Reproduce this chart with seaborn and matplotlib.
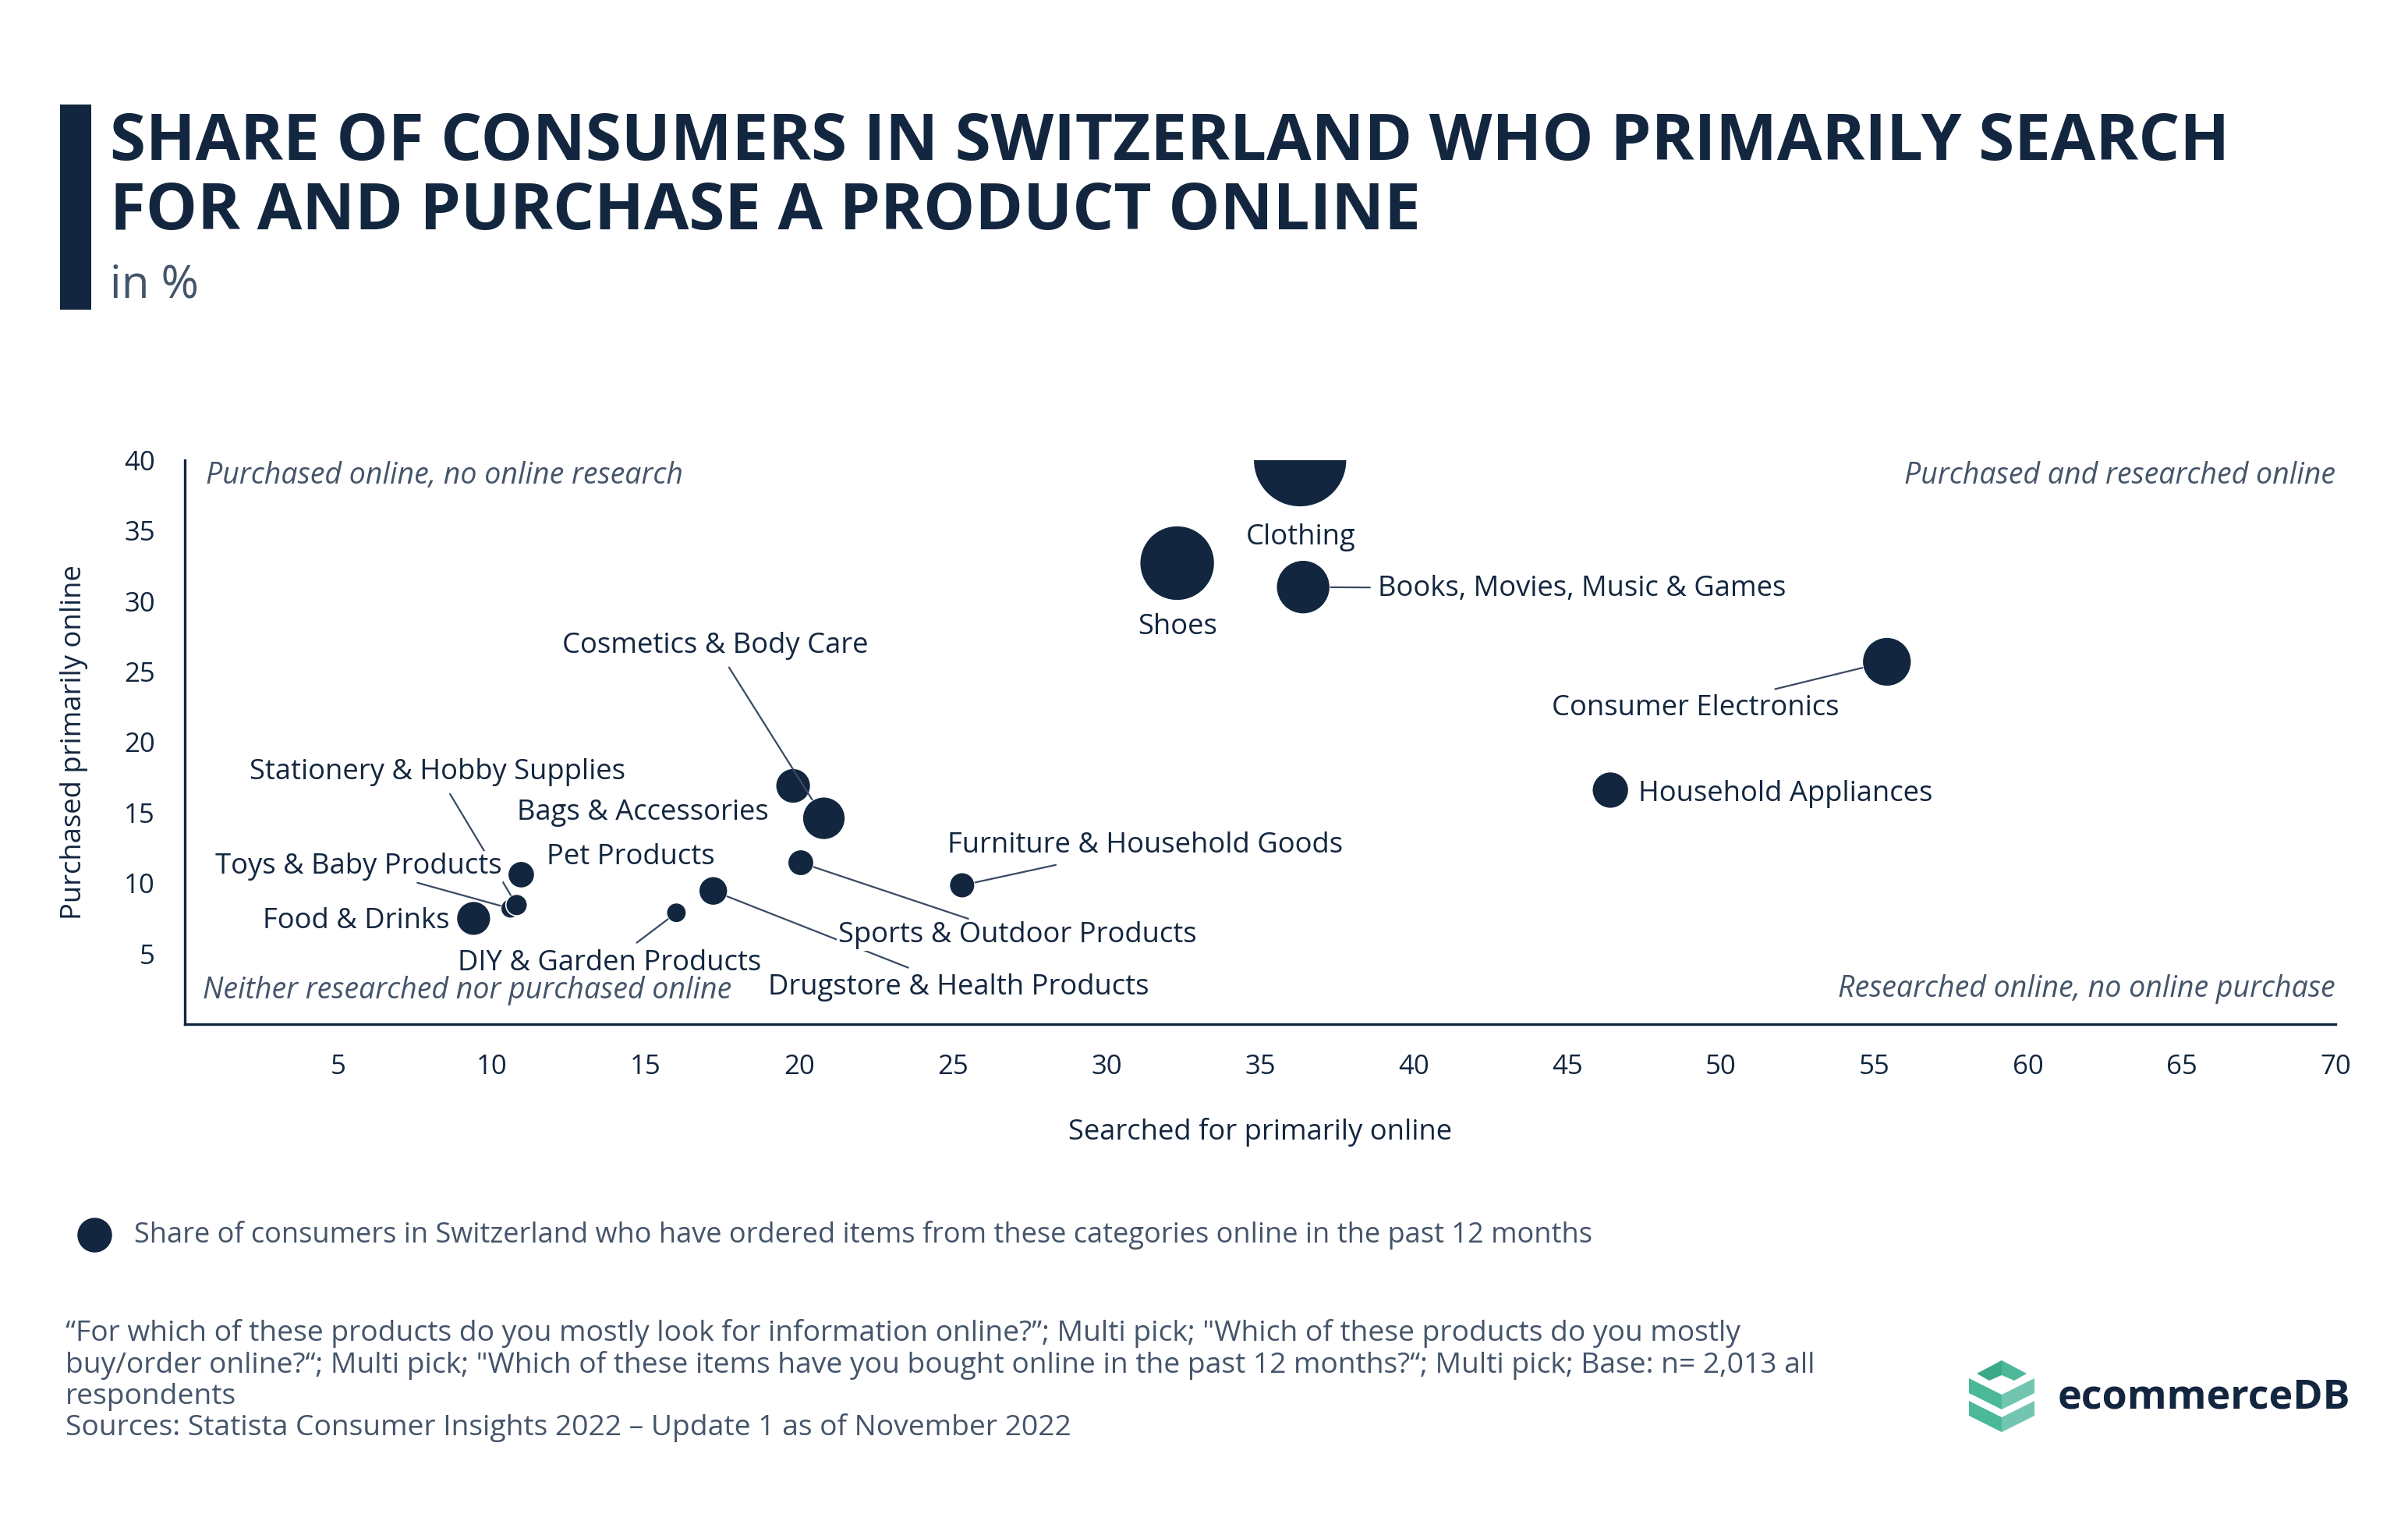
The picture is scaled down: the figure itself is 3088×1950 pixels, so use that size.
import matplotlib
matplotlib.use('Agg')
import matplotlib.pyplot as plt
from matplotlib.lines import Line2D
from matplotlib.patches import Polygon, Rectangle
import pandas as pd
import seaborn as sns

# Data (in %)
categories = ['Clothing', 'Shoes', 'Books, Movies, Music & Games', 'Consumer Electronics',
              'Household Appliances', 'Cosmetics & Body Care', 'Bags & Accessories',
              'Sports & Outdoor Products', 'Furniture & Household Goods',
              'Drugstore & Health Products', 'DIY & Garden Products', 'Pet Products',
              'Toys & Baby Products', 'Stationery & Hobby Supplies', 'Food & Drinks']
searched = [36.3, 32.3, 36.4, 55.4, 46.4, 20.8, 19.8, 20.05, 25.3, 17.2, 16.0, 10.95, 10.6, 10.8, 9.4]
purchased = [40.0, 32.7, 31.0, 25.7, 16.6, 14.6, 16.9, 11.45, 9.85, 9.45, 7.9, 10.6, 8.2, 8.45, 7.5]
ordered = [60.0, 41.4, 25.4, 22.5, 16.2, 19.1, 15.5, 12.3, 12.1, 13.2, 10.6, 12.5, 10.5, 11.0, 15.2]

NAVY = '#13263f'
GREY = '#44546a'
LINE = '#3a4a63'
W, H = 3088, 1950

sns.set_style('white')
plt.rcParams['font.family'] = ['Open Sans', 'DejaVu Sans']

df = pd.DataFrame({'category': categories, 'searched': searched,
                   'purchased': purchased, 'ordered': ordered})

fig = plt.figure(figsize=(W / 200, H / 200), dpi=200)
ax = fig.add_axes([237 / W, 1 - 1313 / H, (2995 - 237) / W, (1313 - 590) / H])

sns.scatterplot(data=df, x='searched', y='purchased', size='ordered',
                sizes=(62.7, 1866), size_norm=(10, 60), color=NAVY,
                edgecolor='white', linewidth=0.6, alpha=1, legend=False,
                ax=ax, zorder=3)

ax.set_xlim(0, 70)
ax.set_ylim(0, 40)
ax.set_xticks(range(0, 71, 5))
ax.set_xticklabels([''] + [str(v) for v in range(5, 71, 5)])
ax.set_yticks(range(0, 41, 5))
ax.set_yticklabels([''] + [str(v) for v in range(5, 41, 5)])
ax.tick_params(direction='out', length=4.3, width=1.2, color=NAVY,
               labelsize=12.5, labelcolor=NAVY, pad=9.5)
for s in ['top', 'right']:
    ax.spines[s].set_visible(False)
for s in ['left', 'bottom']:
    ax.spines[s].set_color(NAVY)
    ax.spines[s].set_linewidth(1.2)

ax.set_xlabel('Searched for primarily online', fontsize=13.1, color=NAVY, va='center')
ax.xaxis.set_label_coords(0.5, -0.191)
ax.set_ylabel('Purchased primarily online', fontsize=13.1, color=NAVY, va='center')
ax.yaxis.set_label_coords(-0.0515, 0.5)

# quadrant captions
qkw = dict(fontsize=13.5, color=GREY, style='italic', transform=ax.transAxes, va='center')
ax.text(0.0098, 0.973, 'Purchased online, no online research', ha='left', **qkw)
ax.text(1.0, 0.973, 'Purchased and researched online', ha='right', **qkw)
ax.text(0.0083, 0.060, 'Neither researched nor purchased online', ha='left', **qkw)
ax.text(1.0, 0.062, 'Researched online, no online purchase', ha='right', **qkw)

# label placement: offset (px, down positive), alignment, leader, white box
label_pos = {
    'Clothing': (1, 95, 'center', False, False),
    'Shoes': (1, 78, 'center', False, False),
    'Books, Movies, Music & Games': (96, -2, 'left', True, False),
    'Consumer Electronics': (-246, 56, 'center', True, False),
    'Household Appliances': (36, 1, 'left', False, False),
    'Cosmetics & Body Care': (-139, -225, 'center', True, False),
    'Bags & Accessories': (-193, 30, 'center', False, False),
    'Sports & Outdoor Products': (278, 89, 'center', True, True),
    'Furniture & Household Goods': (235, -55, 'center', True, False),
    'Drugstore & Health Products': (315, 120, 'center', True, False),
    'DIY & Garden Products': (-86, 61, 'center', True, False),
    'Pet Products': (140, -26, 'center', False, False),
    'Toys & Baby Products': (-195, -58, 'center', True, True),
    'Stationery & Hobby Supplies': (-102, -174, 'center', True, False),
    'Food & Drinks': (-31, 0, 'right', False, False),
}
k = 72 / 200
for _, row in df.iterrows():
    dx, dy, ha, leader, box = label_pos[row['category']]
    dy += 4
    # marker radius in points, same mapping as the scatter sizes
    area = 62.7 + (1866 - 62.7) * (row['ordered'] - 10) / 50
    rad = area ** 0.5 / 2
    kw = {}
    if leader:
        kw['arrowprops'] = dict(arrowstyle='-', color=LINE, lw=0.8,
                                shrinkA=1.5, shrinkB=rad + 0.3)
    if box:
        kw['bbox'] = dict(boxstyle='square,pad=0.05', fc='white', ec='none')
    ax.annotate(row['category'], xy=(row['searched'], row['purchased']),
                xytext=(dx * k, -dy * k), textcoords='offset points',
                ha=ha, va='center', fontsize=13.1, color=NAVY,
                zorder=6 if box else 5, annotation_clip=False, **kw)

# title block
fig.add_artist(Rectangle((77 / W, 1 - 397 / H), 40 / W, 263 / H,
                         transform=fig.transFigure, color=NAVY, lw=0))
fig.text(141 / W, 1 - 205 / H, 'SHARE OF CONSUMERS IN SWITZERLAND WHO PRIMARILY SEARCH',
         fontsize=30, fontweight='bold', color=NAVY, va='baseline')
fig.text(141 / W, 1 - 294 / H, 'FOR AND PURCHASE A PRODUCT ONLINE',
         fontsize=30, fontweight='bold', color=NAVY, va='baseline')
fig.text(141 / W, 1 - 381 / H, 'in %', fontsize=21, color=GREY, va='baseline')

# legend
fig.add_artist(Line2D([121 / W], [1 - 1583 / H], marker='o', ms=15, color=NAVY,
                      ls='', transform=fig.transFigure))
fig.text(172 / W, 1 - 1583 / H,
         'Share of consumers in Switzerland who have ordered items from these categories online in the past 12 months',
         fontsize=13, color=GREY, va='center')

# footer
notes = [
    '\u201cFor which of these products do you mostly look for information online?\u201d; Multi pick; "Which of these products do you mostly',
    'buy/order online?\u201c; Multi pick; "Which of these items have you bought online in the past 12 months?\u201c; Multi pick; Base: n= 2,013 all',
    'respondents',
    'Sources: Statista Consumer Insights 2022 \u2013 Update 1 as of November 2022',
]
for i, line in enumerate(notes):
    fig.text(84 / W, 1 - (1710 + 40.3 * i) / H, line, fontsize=13.4, color=GREY, va='center')

# logo
def P(pts):
    return [(x / W, 1 - y / H) for x, y in pts]

logo = [
    ([(2535, 1761), (2567, 1744), (2567, 1763), (2551, 1770)], '#3aa98a'),
    ([(2567, 1744), (2599, 1761), (2583, 1770), (2567, 1763)], '#4db899'),
    ([(2525, 1767), (2567, 1788), (2567, 1807), (2525, 1786)], '#4bb999'),
    ([(2567, 1788), (2609, 1767), (2609, 1786), (2567, 1807)], '#72c5b0'),
    ([(2525, 1796), (2567, 1817), (2567, 1836), (2525, 1815)], '#4bb999'),
    ([(2567, 1817), (2609, 1796), (2609, 1815), (2567, 1836)], '#72c5b0'),
]
for pts, c in logo:
    fig.add_artist(Polygon(P(pts), closed=True, transform=fig.transFigure, color=c, lw=0))
fig.text(2639 / W, 1 - 1806 / H, 'ecommerceDB', fontsize=18.7, fontweight='bold',
         color=NAVY, va='baseline')

fig.savefig('out.png', dpi=200, facecolor='white')
